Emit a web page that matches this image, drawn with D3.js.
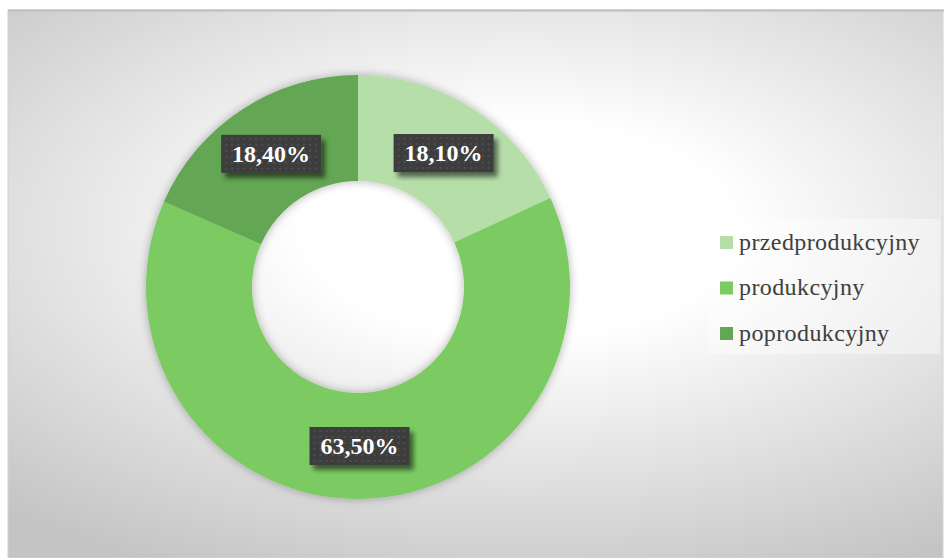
<!DOCTYPE html>
<html>
<head>
<meta charset="UTF-8">
<title>donut</title>
<script src="https://cdn.jsdelivr.net/npm/d3@7"></script>
<style>
  body { margin: 0; background: #fff; }
  svg { display: block; }
  .lbl { font: bold 24px "Liberation Serif", serif; fill: #fff; }
  .leg { font: 24px "Liberation Serif", serif; fill: #404040; letter-spacing: 0.4px; }
</style>
</head>
<body>
<svg width="944" height="558"></svg>
<script>
// chart data
var categories = ["przedprodukcyjny", "produkcyjny", "poprodukcyjny"];
var values = [18.1, 63.5, 18.4];
var colors = ["#b5dea9", "#7ccb62", "#63a653"];

var svg = d3.select("svg"),
    width = +svg.attr("width"),
    height = +svg.attr("height");

var defs = svg.append("defs");

// background: soft elliptical radial gradient
var bg = defs.append("radialGradient")
    .attr("id", "bg")
    .attr("gradientUnits", "userSpaceOnUse")
    .attr("cx", 520).attr("cy", 230).attr("r", 380)
    .attr("gradientTransform", "translate(520,230) scale(2,1) translate(-520,-230)");
bg.append("stop").attr("offset", "0.28").attr("stop-color", "#ffffff");
bg.append("stop").attr("offset", "1").attr("stop-color", "#c4c4c4");

// dotted fill for label boxes
var pat = defs.append("pattern")
    .attr("id", "dots")
    .attr("patternUnits", "userSpaceOnUse")
    .attr("width", 6).attr("height", 6);
pat.append("rect").attr("width", 6).attr("height", 6).attr("fill", "#3d3d3d");
pat.append("rect").attr("x", 2).attr("y", 2).attr("width", 2).attr("height", 2).attr("fill", "#4e4e4e");

var ringShadow = defs.append("filter").attr("id", "ringShadow")
    .attr("x", "-20%").attr("y", "-20%").attr("width", "140%").attr("height", "140%");
ringShadow.append("feDropShadow")
    .attr("dx", 0).attr("dy", 0).attr("stdDeviation", 5)
    .attr("flood-color", "#000").attr("flood-opacity", 0.3);

var boxShadow = defs.append("filter").attr("id", "boxShadow")
    .attr("x", "-20%").attr("y", "-30%").attr("width", "150%").attr("height", "180%");
boxShadow.append("feDropShadow")
    .attr("dx", 4).attr("dy", 5).attr("stdDeviation", 2.5)
    .attr("flood-color", "#000").attr("flood-opacity", 0.55);

// chart area
svg.append("rect")
    .attr("x", 8).attr("y", 10)
    .attr("width", width - 9).attr("height", height - 10)
    .attr("fill", "url(#bg)")
    .attr("stroke", "#d4d4d4");
svg.append("line")
    .attr("x1", 8).attr("x2", width).attr("y1", 10.5).attr("y2", 10.5)
    .attr("stroke", "#bdbdbd").attr("stroke-width", 2);

// donut
var cx = 358, cy = 287, outerR = 212, innerR = 106;

var pie = d3.pie().sort(null).value(function (d) { return d; });
var arcs = pie(values);
var arc = d3.arc().innerRadius(innerR).outerRadius(outerR);

var g = svg.append("g").attr("transform", "translate(" + cx + "," + cy + ")");

g.append("g")
    .attr("filter", "url(#ringShadow)")
    .selectAll("path")
    .data(arcs)
    .enter()
    .append("path")
    .attr("d", arc)
    .attr("fill", function (d, i) { return colors[i]; });

var fmt = function (v) { return d3.format(".2f")(v).replace(".", ",") + "%"; };

var lab = g.selectAll(".label")
    .data(arcs)
    .enter()
    .append("g")
    .attr("class", "label")
    .attr("transform", function (d) { return "translate(" + arc.centroid(d) + ")"; });

lab.append("text")
    .attr("class", "lbl")
    .attr("text-anchor", "middle")
    .attr("dy", "0.35em")
    .text(function (d) { return fmt(d.data); });

lab.each(function () {
    var el = d3.select(this);
    var w = el.select("text").node().getComputedTextLength() + 22;
    el.insert("rect", "text")
        .attr("x", -w / 2).attr("y", -19)
        .attr("width", w).attr("height", 38)
        .attr("fill", "url(#dots)")
        .attr("filter", "url(#boxShadow)");
});

// legend
var leg = svg.append("g").attr("transform", "translate(708,219)");
leg.append("rect")
    .attr("width", 232).attr("height", 135)
    .attr("fill", "#ffffff").attr("fill-opacity", 0.4);

var item = leg.selectAll(".item")
    .data(categories)
    .enter()
    .append("g")
    .attr("class", "item")
    .attr("transform", function (d, i) { return "translate(12," + (23 + i * 45.5) + ")"; });

item.append("rect")
    .attr("x", 0).attr("y", -6)
    .attr("width", 13).attr("height", 13)
    .attr("fill", function (d, i) { return colors[i]; });

item.append("text")
    .attr("class", "leg")
    .attr("x", 19)
    .attr("dy", "0.32em")
    .text(function (d) { return d; });
</script>
</body>
</html>
